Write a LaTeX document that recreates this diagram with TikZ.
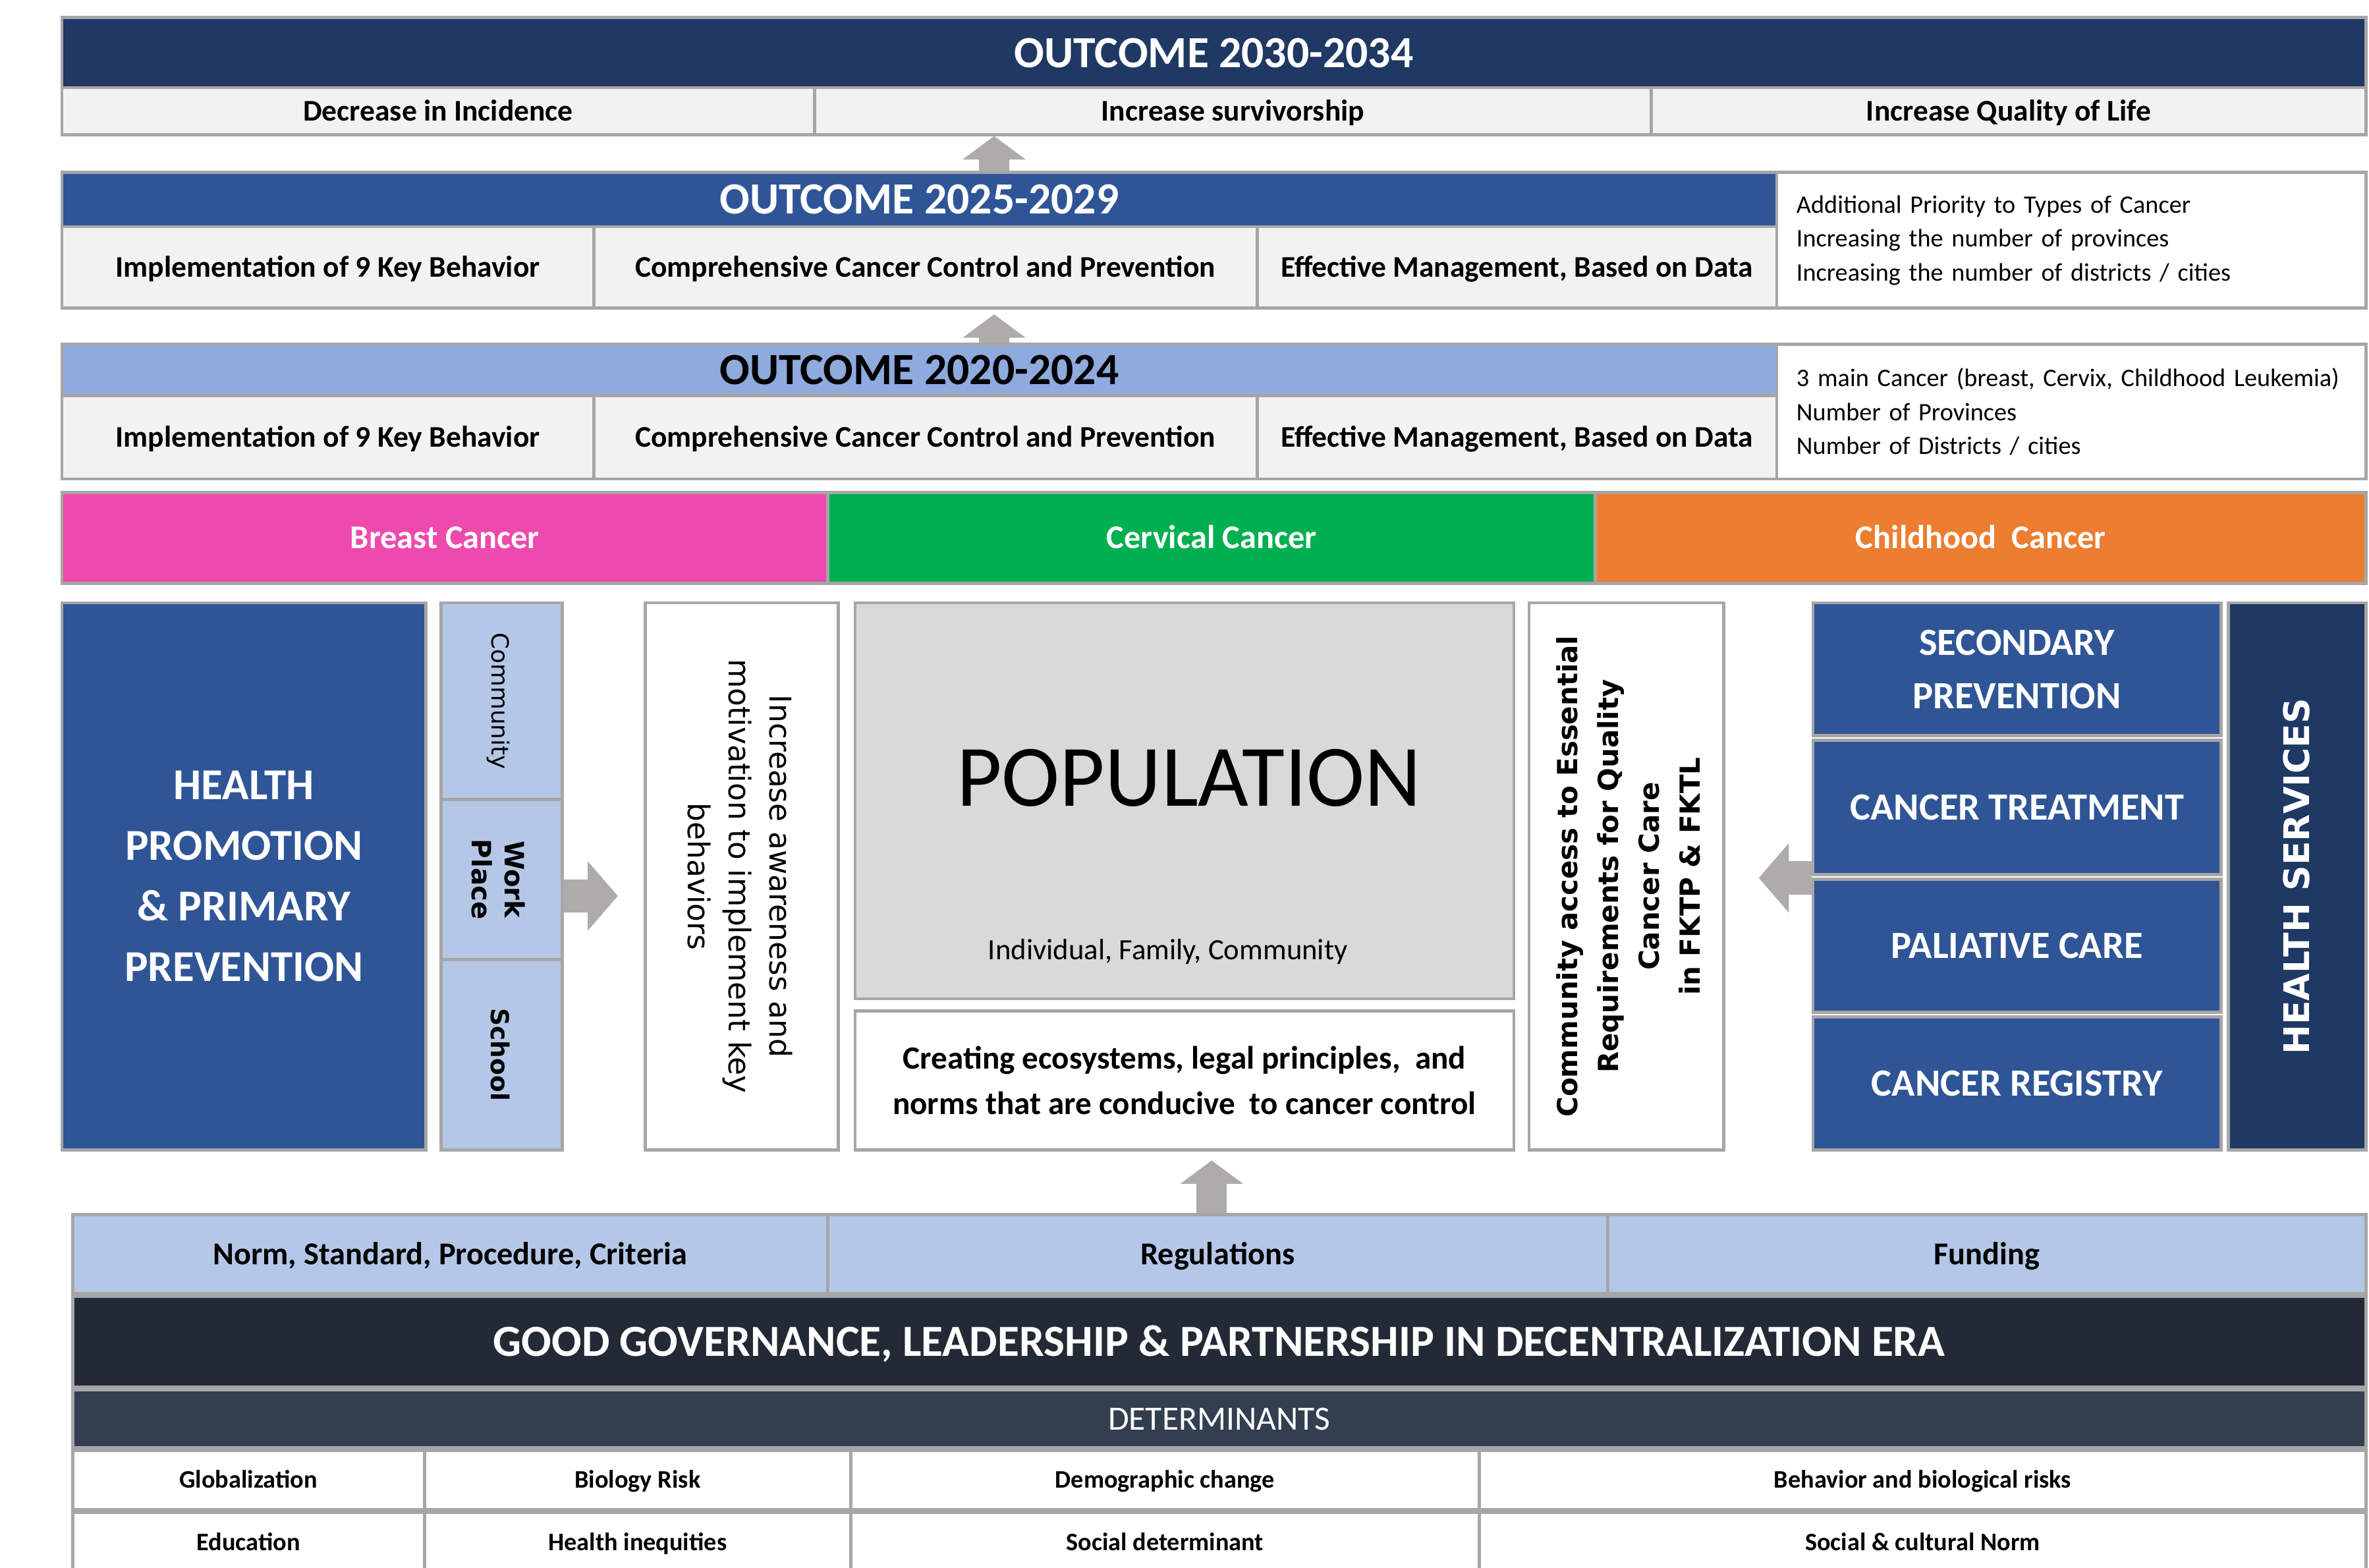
\documentclass[tikz,border=0pt]{standalone}
\usepackage{fontspec}
\setmainfont{Carlito}
\newfontfamily\verd{DejaVu Sans}
\usepackage{xcolor}
\usetikzlibrary{arrows.meta, positioning}

\definecolor{navy}{HTML}{1F3864}
\definecolor{azul}{HTML}{2F5597}
\definecolor{celeste}{HTML}{8FAADC}
\definecolor{palido}{HTML}{B4C7E7}
\definecolor{gris}{HTML}{F2F2F2}
\definecolor{grispob}{HTML}{D9D9D9}
\definecolor{rosa}{HTML}{EE4AAD}
\definecolor{verde}{HTML}{00B050}
\definecolor{naranja}{HTML}{ED7D31}
\definecolor{oscuro}{HTML}{222A35}
\definecolor{pizarra}{HTML}{333F50}
\definecolor{borde}{HTML}{A6A6A6}
\definecolor{flechagris}{HTML}{AEABAB}

\tikzset{
  celda/.style={draw=borde, line width=1.2pt, inner sep=0pt, align=center},
  tam/.style 2 args={minimum width=#1*0.02cm, minimum height=#2*0.02cm},
  linea/.style={text height=#1, text depth=0pt},
  titulo/.style={linea=10.8pt, font=\bfseries\fontsize{16.8}{20}\selectfont},
  fila/.style={linea=7.3pt, font=\bfseries\fontsize{11.3}{14}\selectfont},
  base/.style={linea=7.7pt, font=\bfseries\fontsize{12}{14}\selectfont},
  nota/.style={font=\fontsize{9.5}{12.8}\selectfont, align=left, text width=7.28cm},
  cancer/.style={linea=8.05pt, font=\bfseries\fontsize{12.5}{15}\selectfont, text=white},
  servicio/.style={celda, fill=azul, text=white, font=\bfseries\fontsize{14.5}{20}\selectfont},
  girado/.style={font=\verd\fontsize{11.3}{15.4}\selectfont, align=center},
  determ/.style={celda, fill=white, linea=6.1pt, font=\bfseries\fontsize{9.5}{11}\selectfont},
  flecha/.style={draw=flechagris, line width=0.4cm, -{Triangle[length=0.31cm,width=0.82cm]}},
  flechah/.style={draw=flechagris, line width=0.44cm, -{Triangle[length=0.4cm,width=0.9cm]}},
}

\begin{document}
\begin{tikzpicture}[x=0.02cm, y=-0.02cm]
    \useasboundingbox (0,0) rectangle (1568,1037.4);

    % Outcome 2030-2034
    \node[celda, fill=navy, text=white, tam={1525}{47}, titulo] (hdr30) at (803.5,35) {OUTCOME 2030-2034};
    \node[celda, fill=gris, tam={498}{31}, fila] (dec) at (290,73.5) {Decrease in Incidence};
    \node[celda, fill=gris, tam={554}{31}, fila] (surv) at (816,73.5) {Increase survivorship};
    \node[celda, fill=gris, tam={473}{31}, fila] (qual) at (1329.5,73.5) {Increase Quality of Life};

    % Outcome 2025-2029
    \node[celda, fill=azul, text=white, tam={1135}{36}, titulo] (hdr25) at (608.5,132) {OUTCOME 2025-2029};
    \node[celda, fill=gris, tam={352}{54}, fila] (beh25) at (217,177) {Implementation of 9 Key Behavior};
    \node[celda, fill=gris, tam={439}{54}, fila] (ccc25) at (612.5,177) {Comprehensive Cancer Control and Prevention};
    \node[celda, fill=gris, tam={344}{54}, fila] (man25) at (1004,177) {Effective Management, Based on Data};
    \node[celda, fill=white, tam={390}{90}, nota] (nota25) at (1371,159)
        {Additional Priority to Types of Cancer\\Increasing the number of provinces\\Increasing the number of districts / cities};

    % Outcome 2020-2024
    \node[celda, fill=celeste, tam={1135}{34}, titulo] (hdr20) at (608.5,245) {OUTCOME 2020-2024};
    \node[celda, fill=gris, tam={352}{55}, fila] (beh20) at (217,289.5) {Implementation of 9 Key Behavior};
    \node[celda, fill=gris, tam={439}{55}, fila] (ccc20) at (612.5,289.5) {Comprehensive Cancer Control and Prevention};
    \node[celda, fill=gris, tam={344}{55}, fila] (man20) at (1004,289.5) {Effective Management, Based on Data};
    \node[celda, fill=white, tam={390}{89}, nota] (nota20) at (1371,272.5)
        {3 main Cancer (breast, Cervix, Childhood Leukemia)\\Number of Provinces\\Number of Districts / cities};

    % Flechas entre resultados
    \coordinate (ejeA) at (658,0);
    \draw[flecha] (hdr25.north -| ejeA) -- (surv.south -| ejeA);
    \draw[flecha, shorten >=0.06cm] (hdr20.north -| ejeA) -- (ccc25.south -| ejeA);

    % Tipos de cancer
    \node[celda, fill=rosa, tam={507}{60}, cancer] (breast) at (294.5,356) {Breast Cancer};
    \node[celda, fill=verde, tam={508}{60}, cancer] (cervical) at (802,356) {Cervical Cancer};
    \node[celda, fill=naranja, tam={510}{60}, cancer] (child) at (1311,356) {Childhood~ Cancer};

    % Promocion y entornos
    \node[celda, fill=azul, text=white, tam={241}{362}, font=\bfseries\fontsize{16.6}{22.8}\selectfont] (hpp) at (161.5,580)
        {HEALTH\\PROMOTION\\\& PRIMARY\\PREVENTION};
    \node[celda, fill=palido, tam={80}{130}] (comm) at (332,464) {};
    \node[celda, fill=palido, tam={80}{106}] (work) at (332,582) {};
    \node[celda, fill=palido, tam={80}{126}] (school) at (332,698) {};
    \node[rotate=-90, font=\verd\fontsize{8.9}{11}\selectfont] (commtxt) at (330,464) {Community};
    \node[rotate=-90, align=center, font=\verd\bfseries\fontsize{10}{12.5}\selectfont] (worktxt) at (330,582) {Work\\Place};
    \node[rotate=-90, font=\verd\bfseries\fontsize{9.3}{11}\selectfont] (schooltxt) at (331,698) {School};

    \node[celda, fill=white, tam={128}{362}] (aware) at (491,580) {};
    \node[rotate=-90, girado] (awaretxt) at (490,580)
        {Increase awareness and\\motivation to implement key\\behaviors};
    \draw[flechah, shorten >=0.34cm] ([yshift=-0.22cm]work.east) -- ([yshift=-0.22cm]work.east -| aware.west);

    % Poblacion
    \node[celda, fill=grispob, tam={436}{262}] (pop) at (784,530) {};
    \node[font=\fontsize{33}{36}\selectfont] (poptxt) at (787,515) {POPULATION};
    \node[font=\fontsize{11.1}{13}\selectfont] (popsub) at (773,630) {Individual, Family, Community};
    \node[celda, fill=white, tam={436}{92}, font=\bfseries\fontsize{12.2}{17}\selectfont] (ecos) at (784,715)
        {Creating ecosystems, legal principles,~ and\\norms that are conducive~ to cancer control};

    % Acceso y servicios
    \node[celda, fill=white, tam={129}{362}] (access) at (1076.5,580) {};
    \node[rotate=90, girado, font=\verd\bfseries\fontsize{10.4}{15.4}\selectfont] (accesstxt) at (1078,580)
        {Community access to Essential\\Requirements for Quality\\Cancer Care\\in FKTP \& FKTL};
    \node[servicio, tam={270}{88}] (secprev) at (1335,443) {SECONDARY\\PREVENTION};
    \node[servicio, tam={270}{89}] (treat) at (1335,534.5) {CANCER TREATMENT};
    \node[servicio, tam={270}{88}] (palia) at (1335,626) {PALIATIVE CARE};
    \node[servicio, tam={270}{88}] (registry) at (1335,717) {CANCER REGISTRY};
    \node[celda, fill=navy, tam={91}{362}] (hserv) at (1520.5,580) {};
    \node[rotate=90, text=white, font=\verd\bfseries\fontsize{13.3}{16}\selectfont] (hservtxt) at (1520,580) {HEALTH SERVICES};
    \draw[flechah, shorten >=0.44cm] ([yshift=-0.02cm]treat.south west) -- ([yshift=-0.02cm]treat.south west -| access.east);

    % Base: normas, gobernanza y determinantes
    \node[celda, fill=palido, tam={500}{52}, base] (norm) at (298,830) {Norm, Standard, Procedure, Criteria};
    \node[celda, fill=palido, tam={516}{52}, base] (regs) at (806,830) {Regulations};
    \node[celda, fill=palido, tam={502}{52}, base] (fund) at (1315,830) {Funding};
    \coordinate (ejeC) at (802,0);
    \draw[flecha, shorten >=0.12cm] (regs.north -| ejeC) -- (ecos.south -| ejeC);

    \node[celda, fill=oscuro, text=white, tam={1518}{60}, linea=10.8pt, font=\bfseries\fontsize{16.75}{20}\selectfont] (govern) at (807,888)
        {GOOD GOVERNANCE, LEADERSHIP \& PARTNERSHIP IN DECENTRALIZATION ERA};
    \node[celda, fill=pizarra, text=white, tam={1518}{38}, linea=8.2pt, font=\fontsize{12.8}{15}\selectfont] (determ) at (807,939) {DETERMINANTS};

    \node[determ, tam={233}{39}] (glob) at (164.5,979.5) {Globalization};
    \node[determ, tam={282}{39}] (bio) at (422,979.5) {Biology Risk};
    \node[determ, tam={416}{39}] (demo) at (771,979.5) {Demographic change};
    \node[determ, tam={587}{39}] (behav) at (1272.5,979.5) {Behavior and biological risks};
    \node[determ, tam={233}{40}] (edu) at (164.5,1021) {Education};
    \node[determ, tam={282}{40}] (ineq) at (422,1021) {Health inequities};
    \node[determ, tam={416}{40}] (social) at (771,1021) {Social determinant};
    \node[determ, tam={587}{40}] (norms) at (1272.5,1021) {Social \& cultural Norm};
\end{tikzpicture}
\end{document}
